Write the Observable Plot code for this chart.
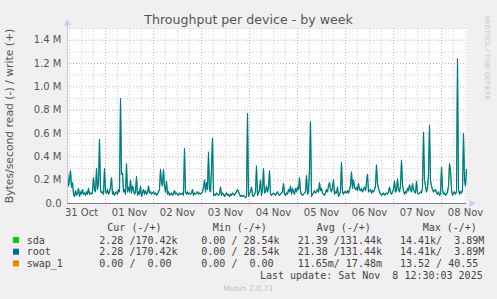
<!DOCTYPE html>
<html><head><meta charset="utf-8">
<script src="https://cdn.jsdelivr.net/npm/d3@7"></script>
<script src="https://cdn.jsdelivr.net/npm/@observablehq/plot@0.6"></script>
<style>
html,body{margin:0;padding:0;background:#f0f0f0;}
#wrap{position:relative;width:497px;height:299px;background:#f0f0f0;overflow:hidden;}
#wrap svg{position:absolute;left:0;top:0;}
</style></head><body><div id="wrap"></div>
<script>
const title = "Throughput per device - by week";
const yLabel = "Bytes/second read (-) / write (+)";
const sideText = "RRDTOOL / TOBI OETIKER";
const footer = "Munin 2.0.73";
const lastUpdate = "Last update: Sat Nov  8 12:30:03 2025";
const dayLabels = ["31 Oct","01 Nov","02 Nov","03 Nov","04 Nov","05 Nov","06 Nov","07 Nov","08 Nov"];
const yTicks = [0, 0.2, 0.4, 0.6, 0.8, 1.0, 1.2, 1.4];
const yMinor = [0.1, 0.3, 0.5, 0.7, 0.9, 1.1, 1.3, 1.5];
const startTime = "2025-10-31T05:00:00Z";
const stepMinutes = 30;
// write throughput (M bytes/s), one value per 30 min; sda and root coincide
const writeM = [
0.27,0.15,0.20,0.28,0.14,0.18,0.08,0.06,0.11,0.07,
0.09,0.13,0.06,0.10,0.08,0.12,0.08,0.09,0.07,0.10,
0.08,0.13,0.08,0.09,0.08,0.10,0.22,0.12,0.10,0.30,
0.12,0.18,0.55,0.12,0.09,0.10,0.08,0.30,0.10,0.09,
0.12,0.08,0.10,0.14,0.22,0.08,0.10,0.07,0.09,0.10,
0.08,0.12,0.10,0.90,0.25,0.26,0.10,0.12,0.08,0.34,
0.10,0.14,0.10,0.20,0.09,0.15,0.12,0.08,0.10,0.23,
0.07,0.10,0.08,0.15,0.06,0.09,0.12,0.08,0.11,0.08,
0.09,0.15,0.09,0.10,0.08,0.09,0.10,0.08,0.09,0.07,
0.08,0.10,0.12,0.29,0.18,0.15,0.29,0.15,0.10,0.19,
0.08,0.10,0.07,0.08,0.09,0.07,0.08,0.11,0.08,0.09,
0.08,0.07,0.09,0.08,0.08,0.09,0.07,0.47,0.10,0.08,
0.10,0.08,0.09,0.08,0.09,0.12,0.07,0.09,0.08,0.09,
0.10,0.08,0.09,0.08,0.09,0.10,0.14,0.20,0.10,0.18,
0.12,0.44,0.12,0.10,0.30,0.56,0.07,0.08,0.07,0.09,
0.08,0.07,0.08,0.14,0.07,0.09,0.08,0.06,0.08,0.09,
0.07,0.08,0.06,0.08,0.07,0.09,0.08,0.07,0.09,0.10,
0.12,0.10,0.08,0.06,0.07,0.06,0.07,0.06,0.05,0.06,
0.77,0.06,0.09,0.10,0.14,0.07,0.06,0.08,0.10,0.32,
0.07,0.09,0.12,0.20,0.07,0.12,0.30,0.09,0.10,0.15,
0.10,0.14,0.28,0.08,0.07,0.08,0.09,0.08,0.07,0.09,
0.10,0.08,0.07,0.08,0.09,0.10,0.17,0.08,0.07,0.09,
0.08,0.12,0.10,0.15,0.08,0.13,0.10,0.08,0.13,0.10,
0.14,0.12,0.22,0.10,0.08,0.07,0.08,0.09,0.10,0.24,
0.08,0.10,0.30,0.70,0.06,0.08,0.09,0.11,0.09,0.10,
0.12,0.10,0.18,0.11,0.13,0.09,0.08,0.07,0.09,0.12,
0.10,0.15,0.18,0.12,0.10,0.14,0.20,0.08,0.10,0.09,
0.14,0.06,0.08,0.10,0.35,0.10,0.08,0.10,0.10,0.09,
0.11,0.09,0.12,0.15,0.27,0.13,0.20,0.14,0.12,0.14,
0.11,0.17,0.12,0.11,0.13,0.10,0.12,0.14,0.11,0.18,
0.25,0.10,0.11,0.12,0.09,0.11,0.10,0.12,0.15,0.33,
0.17,0.13,0.10,0.08,0.07,0.08,0.09,0.07,0.08,0.09,
0.08,0.10,0.14,0.09,0.08,0.10,0.12,0.19,0.10,0.11,
0.21,0.12,0.10,0.15,0.37,0.16,0.11,0.08,0.10,0.09,
0.13,0.11,0.16,0.12,0.10,0.17,0.12,0.10,0.09,0.19,
0.09,0.08,0.09,0.10,0.09,0.13,0.61,0.20,0.15,0.10,
0.13,0.25,0.67,0.20,0.15,0.12,0.10,0.11,0.12,0.09,
0.08,0.10,0.07,0.08,0.31,0.12,0.08,0.09,0.07,0.08,
0.10,0.15,0.34,0.28,0.12,0.07,0.09,0.10,0.08,0.10,
1.24,0.12,0.08,0.10,0.09,0.12,0.60,0.20,0.15,0.29
];
const seriesNames = ["sda","root","swap_1"];
const seriesColors = ["#00cc00","#0066b3","#ff8000"];
const legendHeaders = ["Cur (-/+)","Min (-/+)","Avg (-/+)","Max (-/+)"];
const legendCur = ["2.28 /170.42k","2.28 /170.42k","0.00 /  0.00"];
const legendMin = ["0.00 / 28.54k","0.00 / 28.54k","0.00 /  0.00"];
const legendAvg = ["21.39 /131.44k","21.38 /131.44k","11.65m/ 17.48m"];
const legendMax = ["14.41k/  3.89M","14.41k/  3.89M","13.52 / 40.55"];

const t0 = new Date(startTime);
const data = writeM.map((v, i) => ({t: new Date(+t0 + i * stepMinutes * 60000), v}));
const tEnd = data[data.length - 1].t;
const dayStarts = d3.utcDay.range(d3.utcDay.ceil(t0), tEnd);
const sixHours = d3.utcHour.every(6).range(t0, tEnd).filter(d => d.getUTCHours() !== 0);
const noon0 = new Date(Date.UTC(2025, 9, 31, 12));
const noons = dayLabels.map((_, i) => new Date(+noon0 + i * 864e5));

const minorC = "#d2d2d2", majorC = "#e8a8a8";
const chart = Plot.plot({
  width: 497, height: 299,
  marginLeft: 67, marginRight: 31, marginTop: 28, marginBottom: 96,
  x: {type: "utc", domain: [t0, tEnd], label: null},
  y: {domain: [0, 1.5], label: null},
  style: {background: "transparent", fontFamily: "DejaVu Sans, sans-serif", fontSize: "10px", color: "#555", overflow: "visible"},
  marks: [
    Plot.frame({fill: "white", stroke: null}),
    Plot.ruleY(yMinor, {stroke: minorC, strokeDasharray: "1,2"}),
    Plot.ruleX(sixHours, {stroke: minorC, strokeDasharray: "1,2", insetBottom: -2}),
    Plot.ruleY(yTicks.filter(d => d > 0), {stroke: majorC, strokeDasharray: "1,2"}),
    Plot.ruleX(dayStarts, {stroke: majorC, strokeDasharray: "1,2", insetBottom: -3}),
    Plot.lineY(data, {x: "t", y: "v", stroke: seriesColors[0], strokeWidth: 1.1}),
    Plot.lineY(data, {x: "t", y: "v", stroke: seriesColors[1], strokeWidth: 1.1, strokeOpacity: 0.85}),
    Plot.ruleY([0], {stroke: "#7c7c9c"}),
    Plot.ruleX([t0], {stroke: "#c8c8e6", insetTop: -4}),
    Plot.dot([0], {frameAnchor: "top-left", dy: -5, symbol: "triangle", r: 2.6, fill: "#c4ccf2", stroke: null}),
    Plot.dot([0], {frameAnchor: "bottom-right", dx: 5, symbol: "triangle", rotate: 90, r: 2.6, fill: "#c4ccf2", stroke: null}),
    Plot.axisY({ticks: yTicks, tickSize: 0, tickPadding: 6, fill: "#555", label: null,
      tickFormat: d => d === 0 ? "0.0" : d.toFixed(1) + " M"}),
    Plot.axisX({ticks: noons, tickSize: 0, tickPadding: 5, fill: "#555", label: null,
      tickFormat: d => dayLabels[Math.round((d - noon0) / 864e5)]})
  ]
});
const wrap = document.getElementById("wrap");
wrap.appendChild(chart);

// overlay texts
const svg = d3.select(wrap).append("svg").attr("width", 497).attr("height", 299)
  .style("font-family", "DejaVu Sans, sans-serif");
svg.append("text").attr("x", 248.5).attr("y", 24).attr("text-anchor", "middle")
  .attr("font-size", 12.6).attr("fill", "#555").text(title);
svg.append("text").attr("transform", "translate(13,116) rotate(-90)").attr("text-anchor", "middle")
  .attr("font-size", 10.8).attr("fill", "#555").text(yLabel);
svg.append("text").attr("transform", "translate(485,15) rotate(90)").attr("text-anchor", "start")
  .attr("font-size", 6.6).attr("fill", "#c4c4c4").text(sideText);
svg.append("text").attr("x", 248).attr("y", 291).attr("text-anchor", "middle")
  .attr("font-size", 7.6).attr("fill", "#c2c2c2").text(footer);

const mono = svg.append("g").style("font-family", "DejaVu Sans Mono, monospace")
  .attr("font-size", 10).attr("fill", "#444").style("white-space", "pre");
const hdrX = [107.3, 212.7, 316.7, 422.7];
legendHeaders.forEach((h, i) => mono.append("text").attr("x", hdrX[i]).attr("y", 230.6).attr("xml:space", "preserve").text(h));
const colX = [99.3, 201.3, 297.7, 400];
const rowY = [243.6, 255.3, 267];
seriesNames.forEach((n, r) => {
  svg.append("rect").attr("x", 13).attr("y", rowY[r] - 6.6).attr("width", 6).attr("height", 6).attr("fill", seriesColors[r]);
  mono.append("text").attr("x", 26.7).attr("y", rowY[r]).text(n);
  [legendCur, legendMin, legendAvg, legendMax].forEach((col, c) =>
    mono.append("text").attr("x", colX[c]).attr("y", rowY[r]).attr("xml:space", "preserve").text(col[r]));
});
mono.append("text").attr("x", 482.7).attr("y", 279.3).attr("text-anchor", "end").attr("xml:space", "preserve").text(lastUpdate);
</script></body></html>
